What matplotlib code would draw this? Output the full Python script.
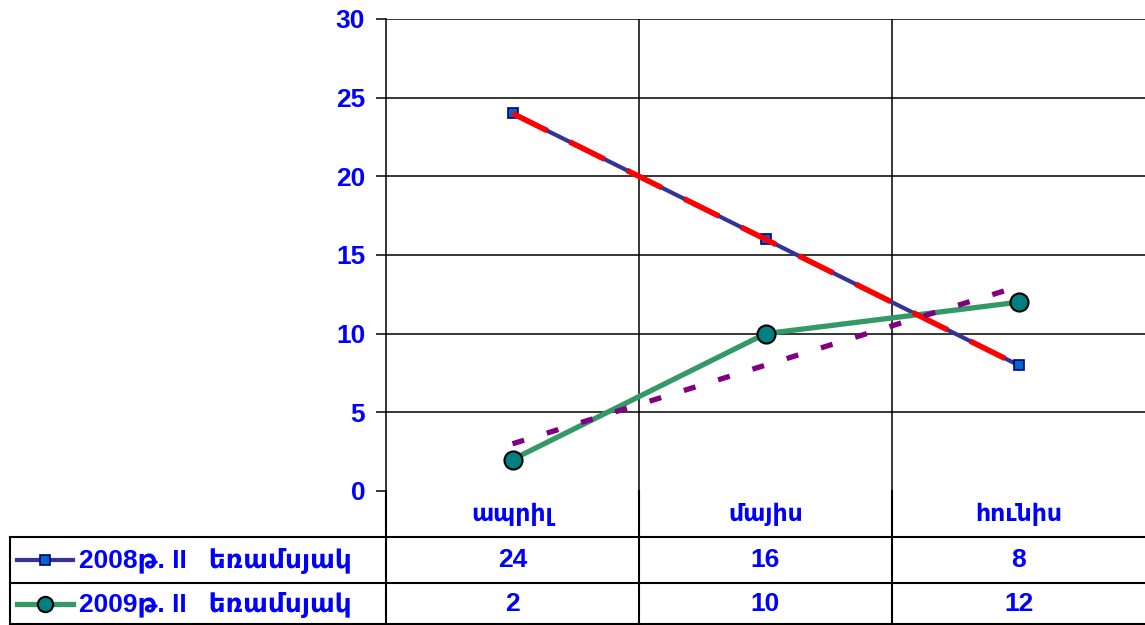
import numpy as np
import matplotlib
matplotlib.use("Agg")
import matplotlib.pyplot as plt
import matplotlib.transforms as mtransforms
from matplotlib.lines import Line2D

months = ["ապրիլ", "մայիս", "հունիս"]
series_names = ["2008թ. II   եռամսյակ", "2009թ. II   եռամսյակ"]
vals_2008 = [24, 16, 8]
vals_2009 = [2, 10, 12]
yticks = [0, 5, 10, 15, 20, 25, 30]

blue_txt = "#0000FF"
c2008 = "#333399"
c2009 = "#339966"
narrow = ["Liberation Sans Narrow", "Liberation Sans", "DejaVu Sans"]
wide = ["Liberation Sans", "DejaVu Sans"]

W, H = 1145, 625
fig = plt.figure(figsize=(W / 100, H / 100), dpi=100)
fig.patch.set_facecolor("white")

# plot area in pixels
px_left, px_right, px_top, px_bot = 386, 1145, 19, 491
ax = fig.add_axes([px_left / W, 1 - px_bot / H, (px_right - px_left) / W, (px_bot - px_top) / H])

x = np.arange(len(months))
ax.set_xlim(-0.5, len(months) - 0.5)
ax.set_ylim(0, 30)

# grid
for v in yticks[1:]:
    ax.axhline(v, color="black", lw=1.1, zorder=1)
for k in range(1, len(months)):
    ax.axvline(k - 0.5, color="black", lw=1.1, zorder=1)

ax.plot(x, vals_2008, color=c2008, lw=3, marker="s", ms=7.5, mfc="#0066CC", mec="#000080", mew=1.2, zorder=3)
ax.plot(x, vals_2009, color=c2009, lw=3.8, marker="o", ms=13, mfc="#008080", mec="black", mew=1.5, zorder=3)

# linear trend lines
p1 = np.polyfit(x, vals_2008, 1)
p2 = np.polyfit(x, vals_2009, 1)
ax.plot(x, np.polyval(p1, x), color="#FF0000", lw=4, dashes=(7, 4.5), zorder=4)
ax.plot(x, np.polyval(p2, x), color="#800080", lw=3.8, dashes=(2.3, 4.5), zorder=4)

ax.set_yticks(yticks)
ax.set_yticklabels([str(v) for v in yticks], color=blue_txt, fontsize=19, fontweight="bold", family=wide)
ax.tick_params(axis="y", length=7, width=1.1, pad=8)
ax.set_xticks([])
for s in ["top", "right", "bottom"]:
    ax.spines[s].set_visible(False)
ax.spines["left"].set_linewidth(1.1)

# data table below the axes
blend = mtransforms.blended_transform_factory(ax.transData, fig.transFigure)
rows_px = [491, 537, 583, 625]
tab_left = 10

def fy(p):
    return 1 - p / H

def hline(y0, x0, x1):
    fig.add_artist(Line2D([x0 / W, x1 / W], [fy(y0), fy(y0)], color="black", lw=1.5, transform=fig.transFigure))

def vline(xp, y0, y1):
    fig.add_artist(Line2D([xp / W, xp / W], [fy(y0), fy(y1)], color="black", lw=1.5, transform=fig.transFigure))

hline(537, tab_left, W)
hline(583, tab_left, W)
hline(624, tab_left, W)
vline(tab_left, 537, 625)
vline(px_left, 491, 625)
for k in range(1, len(months)):
    xb = ax.transData.transform((k - 0.5, 0))[0]
    vline(xb, 491, 625)

mid = lambda a, b: fy((a + b) / 2)
for i, m in enumerate(months):
    fig.text(i, mid(rows_px[0], rows_px[1]), m, transform=blend, ha="center", va="center",
             color=blue_txt, fontsize=17, fontweight="bold", family=narrow)
for r, vals in enumerate([vals_2008, vals_2009]):
    for i, v in enumerate(vals):
        fig.text(i, mid(rows_px[r + 1], rows_px[r + 2]), str(v), transform=blend, ha="center", va="center",
                 color=blue_txt, fontsize=19, fontweight="bold", family=narrow)

# legend keys inside the table
keys = [dict(color=c2008, lw=3, marker="s", ms=7.5, mfc="#0066CC", mec="#000080", mew=1.2),
        dict(color=c2009, lw=3.8, marker="o", ms=11, mfc="#008080", mec="black", mew=1.5)]
for r, (name, kw) in enumerate(zip(series_names, keys)):
    yc = mid(rows_px[r + 1], rows_px[r + 2])
    fig.add_artist(Line2D([17 / W, 73 / W], [yc, yc], transform=fig.transFigure, **{k: v for k, v in kw.items() if k in ("color", "lw")}))
    fig.add_artist(Line2D([45 / W], [yc], transform=fig.transFigure, ls="none",
                          **{k: v for k, v in kw.items() if k not in ("color", "lw")}))
    fig.text(79 / W, yc, name, ha="left", va="center", color=blue_txt, fontsize=19, fontweight="bold", family=wide)

fig.savefig("out.png", dpi=100, facecolor="white")
